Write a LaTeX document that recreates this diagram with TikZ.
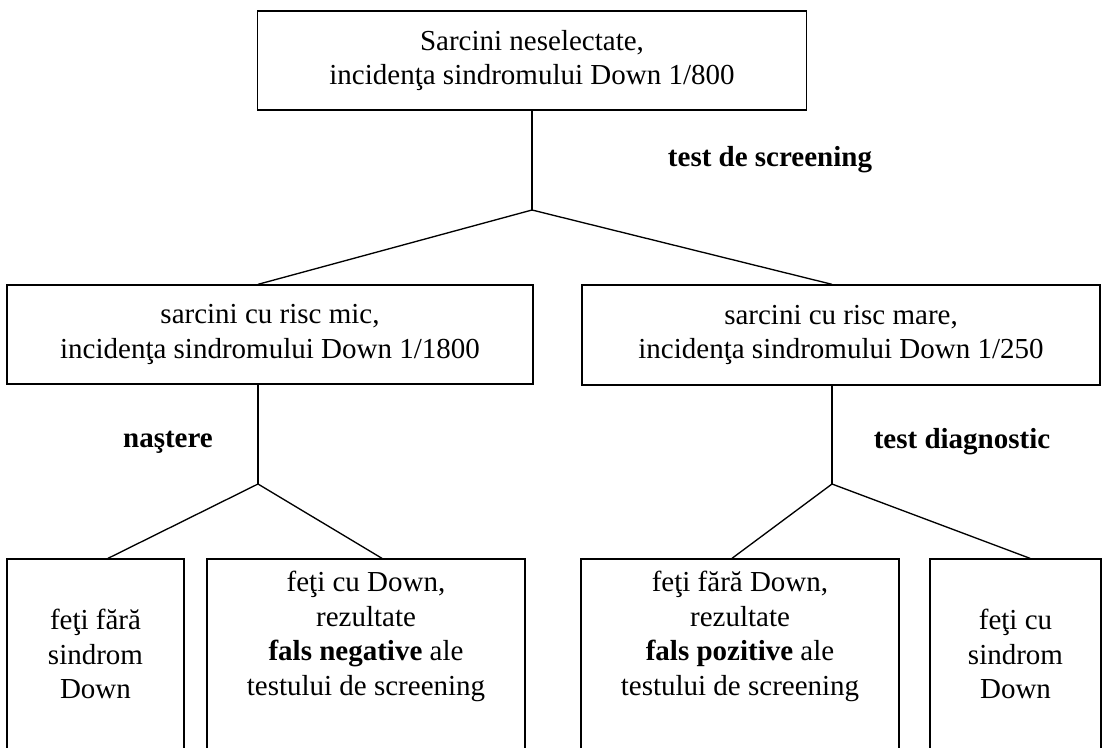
\documentclass[tikz,border=0pt]{standalone}
\usepackage{fontspec}
\setmainfont{Liberation Serif}
\usepackage{xcolor}
\usepackage{tikz}

\tikzset{
	box/.style={draw, line width=1pt, rectangle, inner sep=0pt, align=center},
	txt/.style={align=center, inner sep=0pt},
	lbl/.style={inner sep=0pt, font=\fontsize{21.75pt}{25.9pt}\selectfont\bfseries},
	link/.style={line width=1pt}
}

\begin{document}
\begin{tikzpicture}[x=0.75pt,y=-0.75pt,every node/.append style={font=\fontsize{21.75pt}{25.9pt}\selectfont}]
				\useasboundingbox (0,0) rectangle (1104,747);
				\clip (0,0) rectangle (1104,747);
				\coordinate (j1) at (532,210);%screening
				\coordinate (j2) at (258,484);%nastere
				\coordinate (j3) at (832,484);%diagnostic
				\node[box,minimum width=411.75pt,minimum height=74.25pt] (top) at (532,60.5) {Sarcini neselectate,\\incidenţa sindromului Down 1/800};
				\node[box,minimum width=394.5pt,minimum height=74.25pt] (ml) at (270,334.5) {sarcini cu risc mic,\\incidenţa sindromului Down 1/1800};
				\node[box,minimum width=388.5pt,minimum height=75pt] (mr) at (841,335) {sarcini cu risc mare,\\incidenţa sindromului Down 1/250};
				
				\node[box,minimum width=132.75pt,minimum height=180.75pt] (b1) at (95.5,679.5) {};
				\node[box,minimum width=238.5pt,minimum height=180.75pt] (b2) at (366,679.5) {};
				\node[box,minimum width=238.5pt,minimum height=180.75pt] (b3) at (740,679.5) {};
				\node[box,minimum width=128.25pt,minimum height=180.75pt] (b4) at (1015.5,679.5) {};
				\node[txt] (t1) at (95.5,654) {feţi fără\\sindrom\\Down};
				\node[txt] (t2) at (366,636.5) {feţi cu Down,\\rezultate\\\textbf{fals negative} ale\\testului de screening};
				\node[txt] (t3) at (740,636.5) {feţi fără Down,\\rezultate\\\textbf{fals pozitive} ale\\testului de screening};
				\node[txt] (t4) at (1015.5,654) {feţi cu\\sindrom\\Down};
				
				\node[lbl] (scr) at (770,160) {test de screening};
				\node[lbl] (nas) at (168,442) {naştere};
				\node[lbl] (dia) at (962,442) {test diagnostic};
				
				\draw[link] (top.south -| j1) -- (j1);
				\draw[link] (j1) -- (ml.north -| j2);
				\draw[link] (j1) -- (mr.north -| j3);
				\draw[link] (ml.south -| j2) -- (j2);
				\draw[link] (mr.south -| j3) -- (j3);
				\draw[link] (j2) -- ([xshift=9.4pt]b1.north);
				\draw[link] (j2) -- ([xshift=12pt]b2.north);
				\draw[link] (j3) -- ([xshift=-6pt]b3.north);
				\draw[link] (j3) -- ([xshift=10.9pt]b4.north);
				
			\end{tikzpicture}
\end{document}
